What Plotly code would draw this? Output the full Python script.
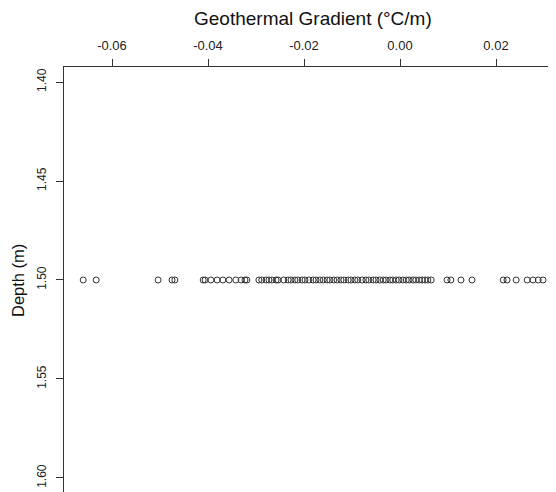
import plotly.graph_objects as go

# Geothermal gradient values (°C/m), all observed at depth 1.50 m
gradient = [
    -0.0660, -0.0633, -0.0504, -0.0475, -0.0469, -0.0410, -0.0406, -0.0394,
    -0.0381, -0.0369, -0.0356, -0.0342, -0.0331, -0.0323, -0.0319, -0.0294,
    -0.0288, -0.0279, -0.0273, -0.0267, -0.0258, -0.0254, -0.0242, -0.0233,
    -0.0227, -0.0219, -0.0213, -0.0204, -0.0198, -0.0190, -0.0181, -0.0175,
    -0.0167, -0.0160, -0.0152, -0.0146, -0.0138, -0.0131, -0.0123, -0.0117,
    -0.0108, -0.0102, -0.0094, -0.0088, -0.0079, -0.0071, -0.0065, -0.0056,
    -0.0050, -0.0042, -0.0035, -0.0029, -0.0021, -0.0015, -0.0008, -0.0002,
    0.0006, 0.0013, 0.0019, 0.0027, 0.0033, 0.0040, 0.0046, 0.0052,
    0.0058, 0.0065, 0.0098, 0.0106, 0.0127, 0.0150, 0.0215, 0.0223,
    0.0242, 0.0265, 0.0277, 0.0288, 0.0298,
]
depth_value = 1.50
depth = [depth_value] * len(gradient)

x_ticks = [-0.06, -0.04, -0.02, 0.00, 0.02]
x_tick_labels = ["-0.06", "-0.04", "-0.02", "0.00", "0.02"]
y_ticks = [1.40, 1.45, 1.50, 1.55, 1.60]
y_tick_labels = ["1.40", "1.45", "1.50", "1.55", "1.60"]

FONT = "Arial, Liberation Sans, sans-serif"

fig = go.Figure()
fig.add_trace(go.Scatter(
    x=gradient, y=depth, mode="markers",
    marker=dict(symbol="circle-open", size=6, color="#333333",
                line=dict(width=1, color="#333333")),
    showlegend=False, cliponaxis=False,
))

# page body has an 8px margin, so the figure is 8px smaller and margins 8px less
fig.update_layout(
    width=548, height=484,
    margin=dict(l=56, r=0, t=59, b=0, autoexpand=False),
    paper_bgcolor="white", plot_bgcolor="white",
    font=dict(family=FONT, color="#222222"),
    xaxis=dict(
        side="top", range=[-0.07, 0.0325],
        tickvals=x_ticks, ticktext=x_tick_labels,
        ticks="outside", ticklen=7, tickwidth=1, tickcolor="#333333",
        showline=True, linecolor="#333333", linewidth=1,
        showgrid=False, zeroline=False,
        tickfont=dict(size=13, color="#222222"),
        ticklabelstandoff=4,
    ),
    yaxis=dict(
        range=[1.6071, 1.3924],
        tickvals=y_ticks, ticktext=y_tick_labels,
        ticks="outside", ticklen=7, tickwidth=1, tickcolor="#333333",
        showline=True, linecolor="#333333", linewidth=1,
        showgrid=False, zeroline=False, tickangle=-90,
        tickfont=dict(size=12, color="#222222"),
        ticklabelstandoff=5,
    ),
    annotations=[
        dict(text="Geothermal Gradient (°C/m)", xref="paper", yref="paper",
             x=(313 - 64) / 492, y=1 + (67 - 18) / 425,
             xanchor="center", yanchor="middle", showarrow=False,
             font=dict(size=19, family=FONT, color="#111111")),
        dict(text="Depth (m)", xref="paper", yref="paper",
             x=(18 - 64) / 492, y=(492 - 281) / 425, textangle=-90,
             xanchor="center", yanchor="middle", showarrow=False,
             font=dict(size=16.5, family=FONT, color="#111111")),
    ],
)

fig.write_html("out.html")
